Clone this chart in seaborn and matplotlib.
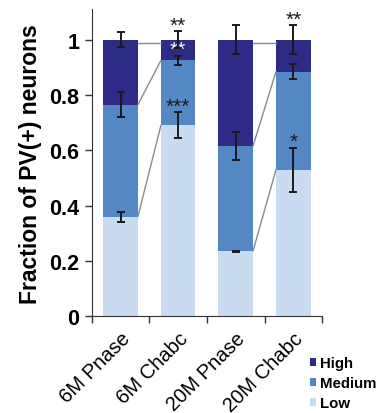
import numpy as np
import pandas as pd
import matplotlib
matplotlib.use("Agg")
import matplotlib.pyplot as plt
import seaborn as sns

# Data
groups = ["6M Pnase", "6M Chabc", "20M Pnase", "20M Chabc"]
low = [0.36, 0.69, 0.235, 0.53]
medium = [0.405, 0.235, 0.38, 0.355]
high = [0.235, 0.075, 0.385, 0.115]
err_low = [0.018, 0.047, 0.002, 0.08]
err_medium = [0.045, 0.015, 0.05, 0.027]
err_high = [0.027, 0.03, 0.053, 0.053]
stars_top = ["", "**", "", "**"]
stars_high = ["", "**", "", ""]
stars_low = ["", "***", "", "*"]

colors = {"High": "#2E2B86", "Medium": "#5488C5", "Low": "#C9DBF0"}

df = pd.DataFrame({"group": groups, "Low": low, "Medium": medium, "High": high})
df["cum_low"] = df["Low"]
df["cum_med"] = df["Low"] + df["Medium"]
df["cum_high"] = df["cum_med"] + df["High"]

sns.set_style("ticks")
plt.rcParams["font.family"] = ["Liberation Sans", "DejaVu Sans"]
plt.rcParams["text.color"] = "black"
plt.rcParams["xtick.color"] = "#333333"
plt.rcParams["ytick.color"] = "#333333"
plt.rcParams["xtick.labelcolor"] = "black"
plt.rcParams["ytick.labelcolor"] = "black"
plt.rcParams["axes.labelcolor"] = "black"

fig = plt.figure(figsize=(3.78, 4.14), dpi=100)
ax = fig.add_axes([0.243, 0.234, 0.609, 0.741])

# stacked bars: draw cumulative heights back to front
for col, name in [("cum_high", "High"), ("cum_med", "Medium"), ("cum_low", "Low")]:
    sns.barplot(data=df, x="group", y=col, color=colors[name], width=0.6,
                saturation=1, ax=ax, label=name, edgecolor="none")
handles, labels = ax.get_legend_handles_labels()
if ax.get_legend() is not None:
    ax.get_legend().remove()

x = np.arange(len(groups))
# connector lines between paired bars
for a, b in [(0, 1), (2, 3)]:
    for col in ["cum_low", "cum_med", "cum_high"]:
        ya, yb = df[col][a], df[col][b]
        if col == "cum_high":
            ya = yb = 0.99
        ax.plot([x[a] + 0.3, x[b] - 0.3], [ya, yb], color="#8a8a8a", lw=1, zorder=1)

# error bars
for col, err in [("cum_low", err_low), ("cum_med", err_medium), ("cum_high", err_high)]:
    ax.errorbar(x, df[col], yerr=err, fmt="none", ecolor="#1a1a1a",
                elinewidth=1.4, capsize=3.2, capthick=1.4, zorder=5)

# significance stars
for i in range(len(groups)):
    if stars_top[i]:
        ax.text(x[i], df["cum_high"][i] + err_high[i] - 0.012, stars_top[i],
                ha="center", va="bottom", fontsize=15, color="#1a1a1a")
    if stars_high[i]:
        ax.text(x[i], 0.93, stars_high[i], ha="center", va="bottom",
                fontsize=15, color="white")
    if stars_low[i]:
        ax.text(x[i], df["cum_low"][i] + err_low[i] - 0.012, stars_low[i],
                ha="center", va="bottom", fontsize=15, color="#1a1a1a")

ax.set_xlim(-0.5, 3.5)
ax.set_ylim(0, 1.11)
ax.set_yticks([0, 0.2, 0.4, 0.6, 0.8, 1])
ax.set_yticklabels(["0", "0.2", "0.4", "0.6", "0.8", "1"], fontsize=15.5, fontweight="bold")
ax.set_xticks(x)
ax.set_xticklabels(groups, rotation=45, ha="right", rotation_mode="anchor",
                   fontsize=14.5)
ax.tick_params(axis="x", length=0, pad=9)
ax.set_xticks([-0.5, 0.5, 1.5, 2.5, 3.5], minor=True)
ax.tick_params(axis="x", which="minor", length=5, width=1)
ax.tick_params(axis="y", length=5, width=1, pad=4)
ax.set_xlabel("")
ax.set_ylabel("Fraction of PV(+) neurons", fontsize=16.5, fontweight="bold", labelpad=5)
sns.despine(ax=ax, top=True, right=True)
ax.spines["left"].set_color("#333333")
ax.spines["bottom"].set_color("#333333")

fig.legend(handles, labels, loc="upper left", bbox_to_anchor=(0.805, 0.152),
           frameon=False, handlelength=0.35, handleheight=0.45,
           handletextpad=0.3, labelspacing=0.4, borderaxespad=0,
           prop={"size": 10.8, "weight": "bold"})

fig.savefig("out.png", dpi=100)
